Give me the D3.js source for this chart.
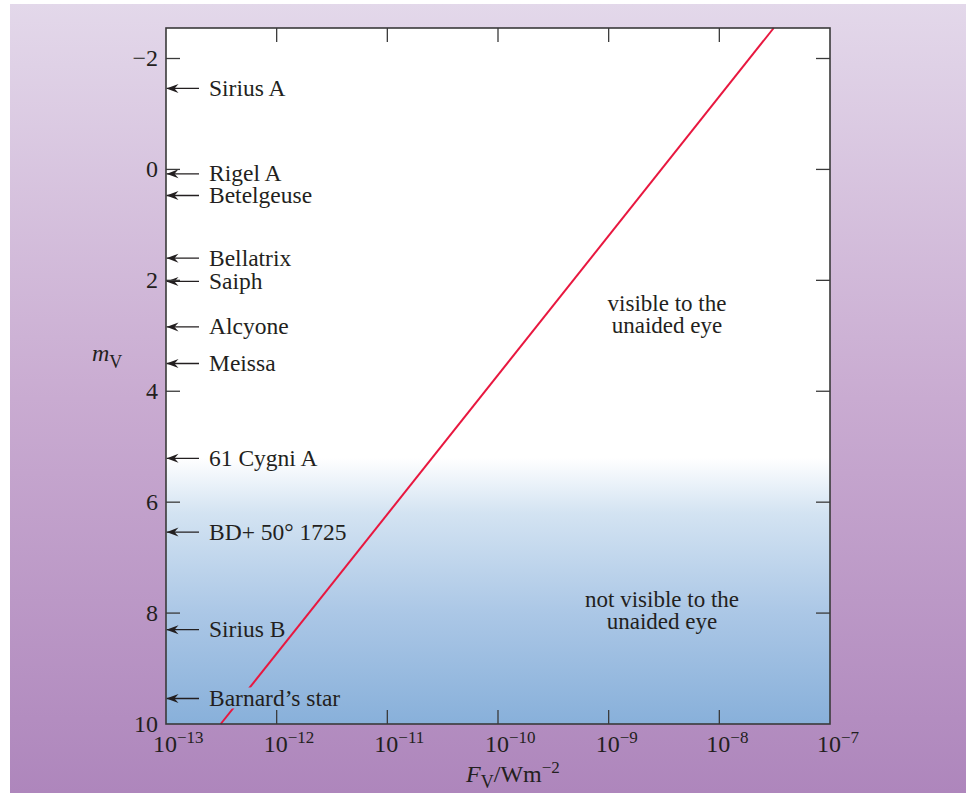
<!DOCTYPE html>
<html>
<head>
<meta charset="utf-8">
<script src="https://cdn.jsdelivr.net/npm/d3@7"></script>
<style>
  html, body { margin: 0; padding: 0; background: #fff; }
  svg { display: block; font-family: "Liberation Serif", "Times New Roman", serif; }
</style>
</head>
<body>
<svg id="chart" width="966" height="793"></svg>
<script>
// Named stars and their apparent visual magnitudes
const starNames = ["Sirius A", "Rigel A", "Betelgeuse", "Bellatrix", "Saiph", "Alcyone",
                   "Meissa", "61 Cygni A", "BD+ 50\u00B0 1725", "Sirius B", "Barnard\u2019s star"];
const starMags = [-1.46, 0.08, 0.47, 1.6, 2.02, 2.84, 3.5, 5.21, 6.54, 8.3, 9.54];

// Flux–magnitude relation, endpoints of the line (flux in W m^-2, magnitude)
const lineFlux = [3.12e-13, 3.1e-8];
const lineMag = [10, -2.55];

// Axis ticks
const fluxTicks = [1e-13, 1e-12, 1e-11, 1e-10, 1e-9, 1e-8, 1e-7];
const fluxExponents = ["\u221213", "\u221212", "\u221211", "\u221210", "\u22129", "\u22128", "\u22127"];
const magTicks = [-2, 0, 2, 4, 6, 8, 10];

// Region annotations
const visibleText = ["visible to the", "unaided eye"];
const notVisibleText = ["not visible to the", "unaided eye"];

const svg = d3.select("#chart");
const W = 966, H = 793;
const plot = { left: 166, right: 830, top: 28, bottom: 724 };
const ink = "#231f20";

const x = d3.scaleLog().domain([1e-13, 1e-7]).range([plot.left, plot.right]);
const y = d3.scaleLinear().domain([-2.55, 10]).range([plot.top, plot.bottom]);

const defs = svg.append("defs");

// page background gradient
const bg = defs.append("linearGradient").attr("id", "bgGrad")
  .attr("x1", 0).attr("y1", 0).attr("x2", 0).attr("y2", 1);
bg.append("stop").attr("offset", "0%").attr("stop-color", "#e3d8ea");
bg.append("stop").attr("offset", "50%").attr("stop-color", "#c9abd1");
bg.append("stop").attr("offset", "100%").attr("stop-color", "#ae86bc");

// plot area gradient (white fading into blue toward faint magnitudes)
const pg = defs.append("linearGradient").attr("id", "plotGrad")
  .attr("gradientUnits", "userSpaceOnUse")
  .attr("x1", 0).attr("y1", plot.top).attr("x2", 0).attr("y2", plot.bottom);
const frac = v => (y(v) - plot.top) / (plot.bottom - plot.top);
pg.append("stop").attr("offset", frac(5.2)).attr("stop-color", "#ffffff");
pg.append("stop").attr("offset", frac(6.2)).attr("stop-color", "#d3e3f2");
pg.append("stop").attr("offset", frac(8)).attr("stop-color", "#abc7e6");
pg.append("stop").attr("offset", 1).attr("stop-color", "#88b0da");

// arrowhead: tip at the end of the path
defs.append("marker").attr("id", "arrowHead")
  .attr("viewBox", "0 0 12 10").attr("refX", 12).attr("refY", 5)
  .attr("markerWidth", 12).attr("markerHeight", 10)
  .attr("markerUnits", "userSpaceOnUse").attr("orient", "auto")
  .append("path").attr("d", "M12,5 L0,0.5 L4,5 L0,9.5 Z").attr("fill", ink);

svg.append("rect").attr("x", 10).attr("y", 4).attr("width", W - 10).attr("height", H - 4)
  .attr("fill", "url(#bgGrad)");

svg.append("rect").attr("x", plot.left).attr("y", plot.top)
  .attr("width", plot.right - plot.left).attr("height", plot.bottom - plot.top)
  .attr("fill", "url(#plotGrad)");

// flux–magnitude line
const line = d3.line().x(d => x(d[0])).y(d => y(d[1]));
svg.append("path").datum(d3.zip(lineFlux, lineMag))
  .attr("d", line).attr("fill", "none").attr("stroke", "#e8173f").attr("stroke-width", 2);

// star labels and arrows
const star = svg.append("g").selectAll("g").data(d3.zip(starNames, starMags)).join("g");
// knockout behind the last label so the line breaks around the text
star.filter((d, i) => i === starNames.length - 1).append("rect")
  .attr("x", 205).attr("y", d => y(d[1]) - 11).attr("width", 142).attr("height", 21)
  .attr("fill", "url(#plotGrad)");
star.append("line")
  .attr("x1", 199).attr("x2", plot.left + 0.5)
  .attr("y1", d => y(d[1])).attr("y2", d => y(d[1]))
  .attr("stroke", ink).attr("stroke-width", 1.3)
  .attr("marker-end", "url(#arrowHead)");
star.append("text").attr("x", 209).attr("y", d => y(d[1]) + 7.5)
  .attr("font-size", 23.5).attr("fill", ink).text(d => d[0]);

// ticks on all four sides (pointing inward)
const tickLen = 14;
const ticks = svg.append("g").attr("stroke", "#3a3a3a").attr("stroke-width", 1.3);
fluxTicks.slice(1, -1).forEach(f => {
  ticks.append("line").attr("x1", x(f)).attr("x2", x(f)).attr("y1", plot.bottom).attr("y2", plot.bottom - tickLen);
  ticks.append("line").attr("x1", x(f)).attr("x2", x(f)).attr("y1", plot.top).attr("y2", plot.top + tickLen);
});
magTicks.slice(0, -1).forEach(m => {
  ticks.append("line").attr("x1", plot.left).attr("x2", plot.left + tickLen).attr("y1", y(m)).attr("y2", y(m));
  ticks.append("line").attr("x1", plot.right).attr("x2", plot.right - tickLen).attr("y1", y(m)).attr("y2", y(m));
});

// frame
svg.append("rect").attr("x", plot.left).attr("y", plot.top)
  .attr("width", plot.right - plot.left).attr("height", plot.bottom - plot.top)
  .attr("fill", "none").attr("stroke", "#3a3a3a").attr("stroke-width", 1.6);

// y tick labels
svg.append("g").selectAll("text").data(magTicks).join("text")
  .attr("x", 158).attr("y", d => y(d) + 7.5).attr("text-anchor", "end")
  .attr("font-size", 24).attr("fill", ink)
  .text(d => d < 0 ? "\u2212" + Math.abs(d) : String(d));

// x tick labels 10^n, with the "10" centred under the tick
const xl = svg.append("g").selectAll("text").data(d3.zip(fluxTicks, fluxExponents)).join("text")
  .attr("x", d => x(d[0]) - 13).attr("y", 752)
  .attr("font-size", 24).attr("fill", ink);
xl.append("tspan").text("10");
xl.append("tspan").attr("dy", -9).attr("font-size", 17).text(d => d[1]);

// axis titles
const yt = svg.append("text").attr("x", 92).attr("y", 361).attr("font-size", 24).attr("fill", ink);
yt.append("tspan").attr("font-style", "italic").text("m");
yt.append("tspan").attr("dy", 7).attr("font-size", 18).text("V");

const xt = svg.append("text").attr("x", 513).attr("y", 782).attr("text-anchor", "middle")
  .attr("font-size", 24).attr("fill", ink);
xt.append("tspan").attr("font-style", "italic").text("F");
xt.append("tspan").attr("dy", 6).attr("font-size", 18).text("V");
xt.append("tspan").attr("dy", -6).text("/Wm");
xt.append("tspan").attr("dy", -9).attr("font-size", 17).text("\u22122");

// region annotations
svg.append("g").selectAll("text").data(visibleText).join("text")
  .attr("x", 667).attr("y", (d, i) => 311 + i * 22).attr("text-anchor", "middle")
  .attr("font-size", 23).attr("fill", ink).text(d => d);
svg.append("g").selectAll("text").data(notVisibleText).join("text")
  .attr("x", 662).attr("y", (d, i) => 607 + i * 22).attr("text-anchor", "middle")
  .attr("font-size", 23).attr("fill", ink).text(d => d);
</script>
</body>
</html>
